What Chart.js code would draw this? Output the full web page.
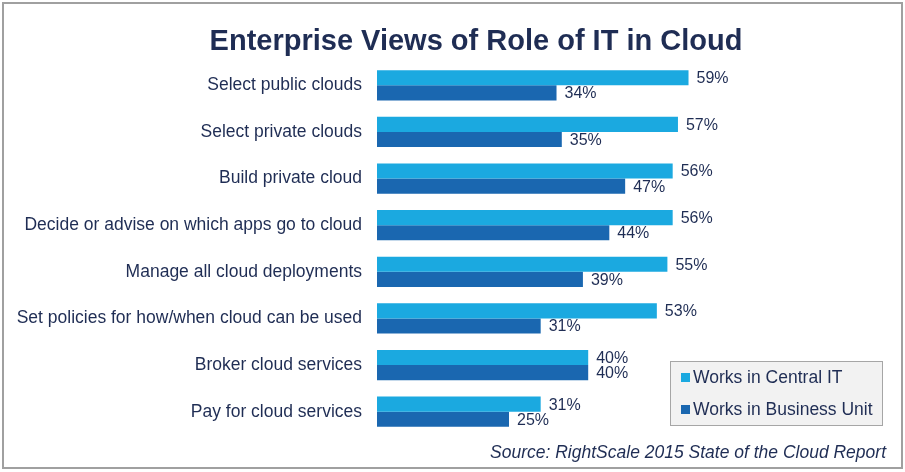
<!DOCTYPE html>
<html>
<head>
<meta charset="utf-8">
<script src="https://cdn.jsdelivr.net/npm/chart.js@4/dist/chart.umd.min.js"></script>
<style>
  html, body { margin: 0; padding: 0; background: #fff; }
  #wrap { width: 905px; height: 472px; position: relative; }
</style>
</head>
<body>
<div id="wrap"><canvas id="cloud" width="905" height="472"></canvas></div>
<script>
var categories = [
    'Select public clouds',
    'Select private clouds',
    'Build private cloud',
    'Decide or advise on which apps go to cloud',
    'Manage all cloud deployments',
    'Set policies for how/when cloud can be used',
    'Broker cloud services',
    'Pay for cloud services'
];
var centralIT = [59, 57, 56, 56, 55, 53, 40, 31];
var businessUnit = [34, 35, 47, 44, 39, 31, 40, 25];
var seriesNames = ['Works in Central IT', 'Works in Business Unit'];
var seriesColors = ['#1ba9e0', '#1a67b0'];
var chartTitle = 'Enterprise Views of Role of IT in Cloud';
var sourceNote = 'Source: RightScale 2015 State of the Cloud Report';

var textColor = '#1f2d54';
var fontFamily = '"Liberation Sans", Arimo, sans-serif';

// title, value labels, legend box, source line and frame
var extras = {
    id: 'extras',
    afterDatasetsDraw: function(chart) {
        var ctx = chart.ctx;
        ctx.save();
        ctx.font = '16px ' + fontFamily;
        ctx.fillStyle = textColor;
        ctx.textAlign = 'left';
        ctx.textBaseline = 'middle';
        chart.data.datasets.forEach(function(ds, di) {
            chart.getDatasetMeta(di).data.forEach(function(bar, i) {
                ctx.fillText(ds.data[i] + '%', bar.x + 8, bar.y + 1);
            });
        });
        ctx.restore();
    },
    afterDraw: function(chart) {
        var ctx = chart.ctx;
        ctx.save();
        // title
        ctx.font = 'bold 29px ' + fontFamily;
        ctx.fillStyle = textColor;
        ctx.textAlign = 'center';
        ctx.textBaseline = 'middle';
        ctx.fillText(chartTitle, 476, 42);
        // legend
        ctx.fillStyle = '#f2f2f2';
        ctx.fillRect(670, 361, 212, 64);
        ctx.strokeStyle = '#a6a6a6';
        ctx.lineWidth = 1;
        ctx.strokeRect(670.5, 361.5, 212, 64);
        ctx.font = '17.5px ' + fontFamily;
        ctx.textAlign = 'left';
        seriesNames.forEach(function(name, i) {
            var y = 378 + i * 32;
            ctx.fillStyle = seriesColors[i];
            ctx.fillRect(681, y - 5, 9, 9);
            ctx.fillStyle = textColor;
            ctx.fillText(name, 693, y);
        });
        // source
        ctx.font = 'italic 17.5px ' + fontFamily;
        ctx.textAlign = 'right';
        ctx.fillStyle = textColor;
        ctx.fillText(sourceNote, 886, 453);
        // frame
        ctx.strokeStyle = '#a0a0a0';
        ctx.lineWidth = 2;
        ctx.strokeRect(3, 3, 899, 465);
        ctx.restore();
    }
};

new Chart(document.getElementById('cloud'), {
    type: 'bar',
    data: {
        labels: categories,
        datasets: [{
            label: seriesNames[0],
            data: centralIT,
            backgroundColor: seriesColors[0],
            borderWidth: 0
        }, {
            label: seriesNames[1],
            data: businessUnit,
            backgroundColor: seriesColors[1],
            borderWidth: 0
        }]
    },
    options: {
        indexAxis: 'y',
        responsive: false,
        animation: false,
        devicePixelRatio: 1,
        layout: {
            padding: { left: 0, right: 0, top: 62, bottom: 37 }
        },
        datasets: {
            bar: { barPercentage: 1, categoryPercentage: 0.65 }
        },
        plugins: {
            legend: { display: false },
            tooltip: { enabled: false },
            title: { display: false }
        },
        scales: {
            x: {
                min: 0,
                max: 100,
                display: false,
                grid: { display: false }
            },
            y: {
                grid: { display: false, drawTicks: false },
                border: { display: false },
                ticks: {
                    color: textColor,
                    font: { family: fontFamily, size: 17.5 },
                    padding: 15
                },
                afterFit: function(scale) { scale.width = 377; }
            }
        }
    },
    plugins: [extras]
});
</script>
</body>
</html>
